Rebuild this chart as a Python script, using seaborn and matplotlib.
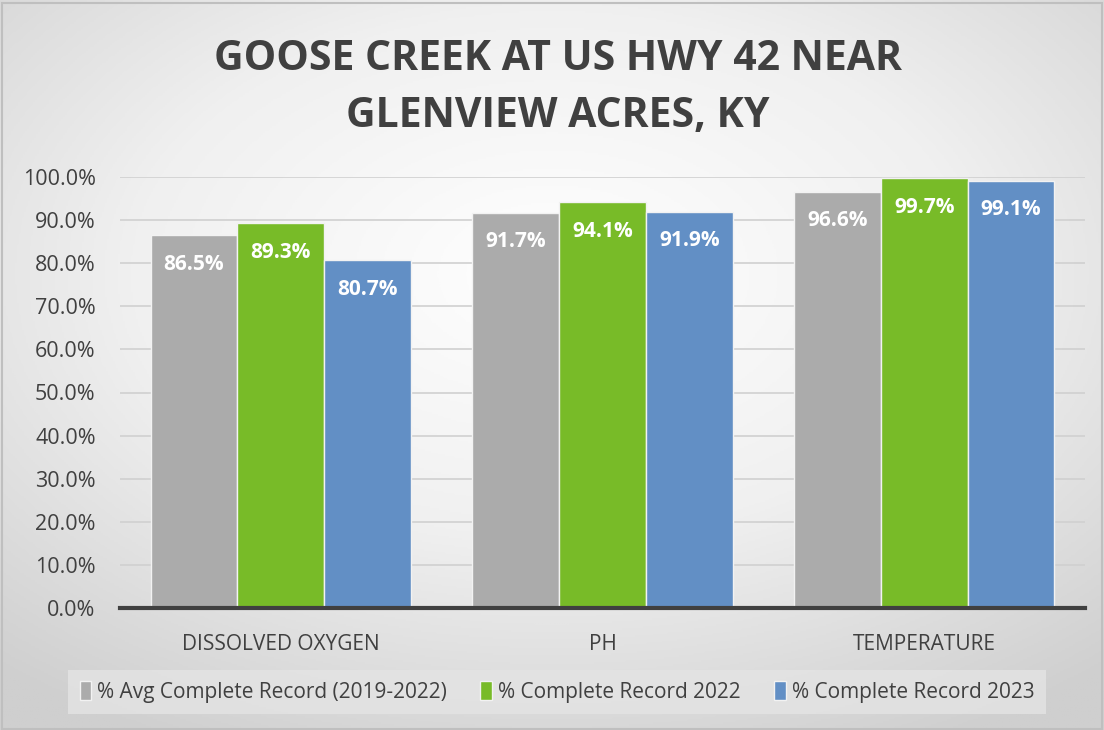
import numpy as np
import pandas as pd
import matplotlib
matplotlib.use("Agg")
import matplotlib.pyplot as plt
from matplotlib.ticker import PercentFormatter
import seaborn as sns

## chart data
parameters = ["DISSOLVED OXYGEN", "PH", "TEMPERATURE"]
series = ["% Avg Complete Record (2019-2022)", "% Complete Record 2022", "% Complete Record 2023"]
avg_2019_2022 = [86.5, 91.7, 96.6]
rec_2022 = [89.3, 94.1, 99.7]
rec_2023 = [80.7, 91.9, 99.1]
yticks = [0, 10, 20, 30, 40, 50, 60, 70, 80, 90, 100]

colors = ["#ABABAB", "#78BB28", "#628FC5"]

df = pd.DataFrame({
    "param": parameters * 3,
    "series": [series[0]] * 3 + [series[1]] * 3 + [series[2]] * 3,
    "value": avg_2019_2022 + rec_2022 + rec_2023,
})

sns.set_style("white")
plt.rcParams['font.family'] = ['Open Sans', 'DejaVu Sans']

fig = plt.figure(figsize=(11.04, 7.3), dpi=100)

## radial gradient background
bg = fig.add_axes([0, 0, 1, 1], zorder=-10)
yy, xx = np.mgrid[-1:1:400j, -1:1:600j]
r = np.sqrt((xx * 0.85) ** 2 + ((yy + 0.25) * 0.9) ** 2)
bg.imshow(r, cmap=matplotlib.colors.LinearSegmentedColormap.from_list("g", ["#FFFFFF", "#F0F0F0", "#CFCFCF"]),
          extent=[0, 1, 0, 1], aspect="auto", vmin=0, vmax=1.3)
bg.set_axis_off()
bg.add_patch(plt.Rectangle((0.002, 0.002), 0.996, 0.994, fill=False, edgecolor="#BFBFBF", lw=1.5,
                           transform=bg.transAxes))

ax = fig.add_axes([120 / 1104, 1 - 608 / 730, 965 / 1104, 431 / 730])
ax.patch.set_alpha(0)

sns.barplot(data=df, x="param", y="value", hue="series", palette=colors, width=0.81,
            edgecolor="#F2F2F2", linewidth=1.0, ax=ax, saturation=1)

ax.set_xlim(-0.5, 2.5)
ax.set_ylim(0, 100)
ax.set_yticks(yticks)
ax.yaxis.set_major_formatter(PercentFormatter(decimals=1))
ax.grid(axis="y", color="#D0D0D0", lw=1.2)
ax.set_axisbelow(True)
ax.set_xlabel("")
ax.set_ylabel("")
for s in ["left", "right", "top"]:
    ax.spines[s].set_visible(False)
ax.spines["bottom"].set_color("#404040")
ax.spines["bottom"].set_linewidth(3)
ax.tick_params(axis="x", length=0, labelsize=15, colors="#404040", pad=19)
ax.tick_params(axis="y", length=0, labelsize=15.5, colors="#404040", pad=17.5)

## value labels inside bar tops
for cont in ax.containers:
    for bar in cont:
        h = bar.get_height()
        ax.annotate(f"{h:.1f}%", (bar.get_x() + bar.get_width() / 2, h), xytext=(0, -29),
                    textcoords="offset pixels",
                    ha="center", va="center", color="white", fontsize=15, fontweight="bold")

ax.get_legend().remove()
handles, labels = ax.get_legend_handles_labels()
leg = fig.legend(handles, labels, loc="center", bbox_to_anchor=(557 / 1104, 1 - 692 / 730), ncol=3,
                 frameon=True, fontsize=15, handlelength=0.55, handleheight=1.0, handletextpad=0.3,
                 columnspacing=1.6, borderpad=0.55, borderaxespad=0, fancybox=False)
leg.get_frame().set_facecolor("#E4E4E4")
leg.get_frame().set_edgecolor("none")
for t in leg.get_texts():
    t.set_color("#404040")

fig.text(0.505, 1 - 88 / 730, "GOOSE CREEK AT US HWY 42 NEAR\nGLENVIEW ACRES, KY", ha="center", va="center",
         fontsize=29.5, fontweight="bold", color="#404040", linespacing=1.5)

fig.savefig("out.png", dpi=100)
